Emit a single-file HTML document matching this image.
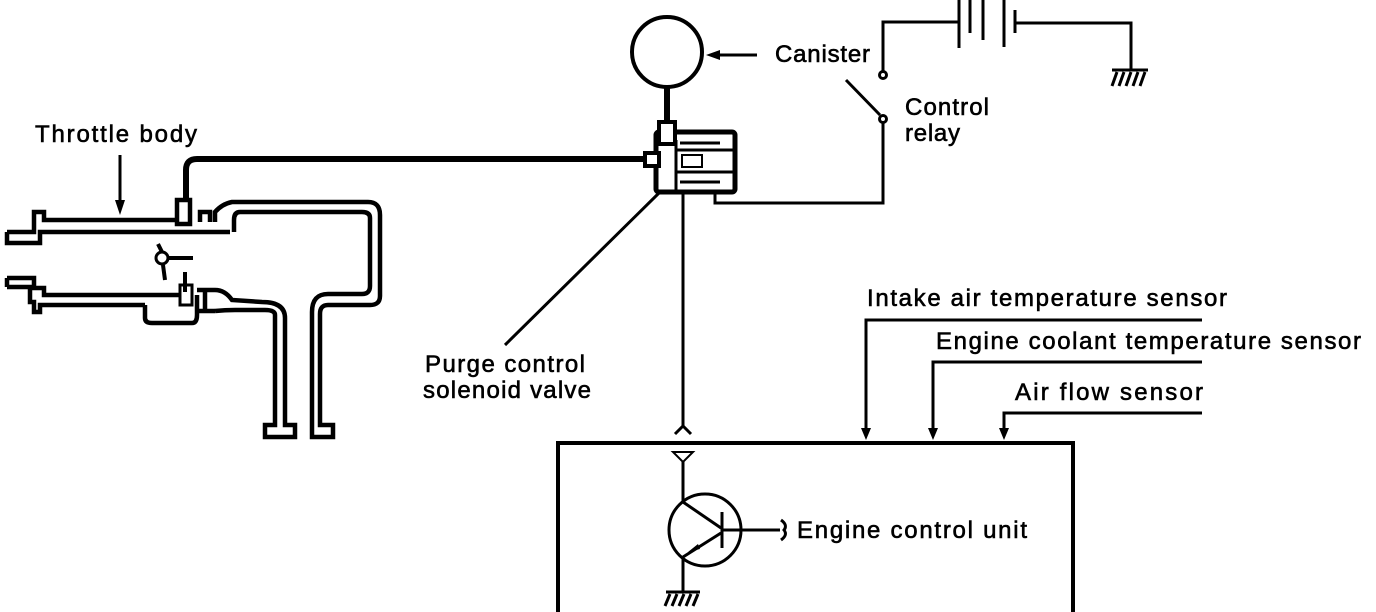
<!DOCTYPE html>
<html><head><meta charset="utf-8"><style>
html,body{margin:0;padding:0;background:#fff;}
svg{display:block;}
text{font-family:"Liberation Sans",sans-serif;font-size:24px;fill:#000;stroke:#000;stroke-width:0.6;}
</style></head><body>
<svg width="1376" height="612" viewBox="0 0 1376 612" xmlns="http://www.w3.org/2000/svg">
<g fill="none" stroke="#000" stroke-width="3">
<!-- Canister -->
<circle cx="667" cy="52" r="35" stroke-width="4"/>
<line x1="667" y1="87" x2="667" y2="122" stroke-width="6"/>
<line x1="757" y1="55" x2="715" y2="55"/>
<!-- valve -->
<rect x="656" y="132" width="79" height="60" rx="3" stroke-width="5"/>
<rect x="659" y="122" width="16" height="22" stroke-width="4" fill="#fff"/>
<line x1="677" y1="150" x2="733" y2="150" stroke-width="3"/>
<line x1="677" y1="172" x2="733" y2="172" stroke-width="3"/>
<rect x="682" y="155" width="20" height="12" stroke-width="2"/>
<line x1="676" y1="140" x2="676" y2="192" stroke-width="3"/>
<line x1="680" y1="143" x2="720" y2="143"/><line x1="680" y1="182" x2="720" y2="182"/>
<rect x="645" y="153" width="14" height="13" stroke-width="4" fill="#fff"/>
<!-- hose -->
<path d="M645 159 L197 159 Q186 159 186 170 L186 205" stroke-width="6"/>
<!-- wire -->
<path d="M715 192 L715 203 L883 203 L883 122"/>
<circle cx="883" cy="119" r="3.5"/>
<line x1="846" y1="80" x2="880" y2="115"/>
<circle cx="883" cy="75" r="3.5"/>
<path d="M883 71 L883 22 L959 22"/>
<line x1="959" y1="0" x2="959" y2="48" stroke-width="3"/>
<line x1="970" y1="0" x2="970" y2="33" stroke-width="3"/>
<line x1="983" y1="0" x2="983" y2="40" stroke-width="3"/>
<line x1="1004" y1="0" x2="1004" y2="47" stroke-width="3"/>
<line x1="1015" y1="10" x2="1015" y2="33" stroke-width="3"/>
<path d="M1015 23 L1131 23 L1131 70"/>
<path d="M1112 70 L1148 70 M1117 72 L1112 86 M1124 72 L1119 86 M1131 72 L1126 86 M1138 72 L1133 86 M1145 72 L1140 86"/>
<!-- purge line -->
<line x1="683" y1="192" x2="683" y2="428"/>
<path d="M675 434 L683 426 L691 434"/>
<line x1="505" y1="345" x2="660" y2="192"/>
<!-- Throttle body arrow -->
<line x1="120" y1="155" x2="120" y2="205"/>
<!-- throttle upper tube -->
<path d="M7 232 L34 232 L34 212 L44 212 L44 220 L180 220 M7 232 L7 243 L40 243 L40 232 L230 232" stroke-width="4.5"/>
<rect x="177" y="200" width="13" height="24" stroke-width="4.5" fill="#fff"/>
<path d="M200 222 L200 212 L210 212 L210 222" stroke-width="4.5"/>
<path d="M215 222 L215 212 Q222 204 232 202 L368 202 Q380 202 380 215 L380 296 Q380 305 370 305 L328 305 Q320 305 320 314 L320 425 L333 425 L333 437 L312 437 L312 312 Q312 294 328 294 L362 294 Q370 294 370 286 L370 218 Q370 212 362 212 L240 212 Q234 212 234 220 L234 232" stroke-width="4.5"/>
<!-- throttle lower tube -->
<path d="M7 278 L34 278 L34 288 L44 288 L44 295 L180 295 M7 278 L7 287 M7 287 L30 287 L30 302 L34 302 L34 312 L40 312 L40 305 L145 305" stroke-width="4.5"/>
<path d="M145 305 L145 318 Q145 323 152 323 L192 323 Q197 323 197 315 L197 295" stroke-width="4.5"/>
<rect x="180" y="285" width="12" height="20" stroke-width="3"/>
<path d="M197 290 L215 290 M197 311 L215 311 M205 290 L205 311" stroke-width="4.5"/>
<path d="M215 290 Q225 290 232 300 L262 302 Q285 302 285 318 L285 425 L295 425 L295 437 L265 437 L265 425 L275 425 L275 315 Q275 310 265 310 L235 310 Q225 310 215 311" stroke-width="4.5"/>
<!-- throttle valve -->
<circle cx="162" cy="258" r="6" stroke-width="3"/>
<line x1="168" y1="258" x2="193" y2="258" stroke-width="4"/>
<path d="M158 244 L162 252 M163 265 L165 280" stroke-width="4"/>
<line x1="185" y1="272" x2="185" y2="292" stroke-width="4"/>
<!-- sensors -->
<path d="M1202 320 L866 320 L866 432"/>
<path d="M1202 362 L933 362 L933 432"/>
<path d="M1202 413 L1004 413 L1004 432"/>
<!-- ECU -->
<path d="M558 612 L558 443 L1073 443 L1073 612" stroke-width="4"/>
<!-- transistor -->
<path d="M673 452 L693 452 L683 462 Z" stroke-width="2"/>
<line x1="683" y1="462" x2="683" y2="502"/>
<circle cx="705" cy="530" r="36"/>
<line x1="683" y1="502" x2="721" y2="528"/>
<line x1="721" y1="533" x2="683" y2="557"/>
<line x1="722" y1="512" x2="722" y2="548" stroke-width="3"/>
<line x1="722" y1="530" x2="780" y2="530"/>
<path d="M781 520 Q788 525 784 530 Q788 535 781 540"/>
<line x1="683" y1="557" x2="683" y2="592"/>
<path d="M666 592 L700 592 M670 594 L665 606 M677 594 L672 606 M684 594 L679 606 M691 594 L686 606 M698 594 L693 606"/>
</g>
<g fill="#000">
<path d="M706 55 L720 50 L720 60 Z"/>
<path d="M120 215 L115 200 L125 200 Z"/>
<path d="M866 440 L861 428 L871 428 Z"/>
<path d="M933 440 L928 428 L938 428 Z"/>
<path d="M1004 440 L999 428 L1009 428 Z"/>
<path d="M688 552 L698 544 L700 549 Z"/>
</g>
<text x="775" y="62" textLength="95">Canister</text>
<text x="905" y="115" textLength="84">Control</text>
<text x="905" y="141" textLength="55">relay</text>
<text x="35" y="142" textLength="162">Throttle body</text>
<text x="425" y="372" textLength="160">Purge control</text>
<text x="423" y="398" textLength="168">solenoid valve</text>
<text x="867" y="306" textLength="360">Intake air temperature sensor</text>
<text x="936" y="349" textLength="425">Engine coolant temperature sensor</text>
<text x="1015" y="400" textLength="188">Air flow sensor</text>
<text x="797" y="538" textLength="230">Engine control unit</text>
</svg>
</body></html>
